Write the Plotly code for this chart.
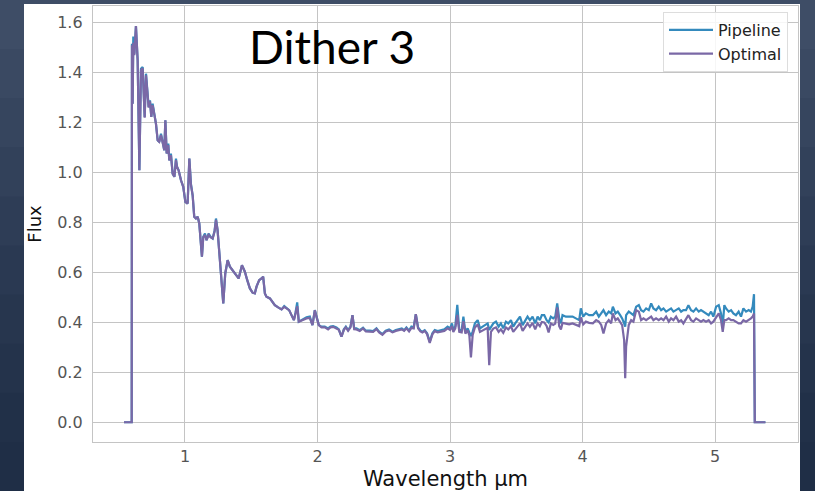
import plotly.graph_objects as go

# ---- data ----
wavelength = [
    0.54, 0.57, 0.598,
    0.600, 0.605, 0.610, 0.618, 0.630, 0.643, 0.656, 0.668, 0.681, 0.688, 0.696, 0.706, 0.718, 0.726,
    0.736, 0.746, 0.756, 0.769, 0.781, 0.794, 0.806, 0.819, 0.832, 0.844, 0.852, 0.862, 0.874, 0.882,
    0.894, 0.907, 0.920, 0.932, 0.940, 0.952, 0.970, 0.987, 1.003, 1.020, 1.033, 1.045, 1.058, 1.070,
    1.083, 1.096, 1.108, 1.118, 1.128, 1.138, 1.151, 1.163, 1.178, 1.194, 1.209, 1.224, 1.234, 1.246,
    1.259, 1.274, 1.289, 1.304, 1.322, 1.339, 1.359, 1.385, 1.405, 1.430, 1.452, 1.470, 1.490, 1.510,
    1.527, 1.540, 1.560, 1.578, 1.590, 1.603, 1.615, 1.641, 1.661, 1.678, 1.703, 1.729, 1.749, 1.766,
    1.786, 1.804, 1.822, 1.834, 1.847, 1.859, 1.879, 1.899, 1.917, 1.942, 1.962, 1.980, 1.992, 2.010,
    2.030, 2.055, 2.080, 2.098, 2.118, 2.143, 2.161, 2.181, 2.199, 2.214, 2.231, 2.249, 2.264, 2.277,
    2.294, 2.319, 2.344, 2.365, 2.395, 2.420, 2.445, 2.465, 2.490, 2.515, 2.540, 2.566, 2.591, 2.616,
    2.636, 2.654, 2.671, 2.691, 2.709, 2.726, 2.742, 2.759, 2.777, 2.792, 2.809, 2.827, 2.847, 2.867,
    2.885, 2.907, 2.932, 2.957, 2.982, 3.000, 3.015, 3.025, 3.040, 3.055, 3.070, 3.088, 3.101, 3.116,
    3.133, 3.146, 3.158, 3.171, 3.188, 3.209, 3.226, 3.246, 3.266, 3.284, 3.296, 3.309, 3.327, 3.347,
    3.367, 3.384, 3.402, 3.422, 3.440, 3.460, 3.477, 3.492, 3.510, 3.528, 3.548, 3.568, 3.585, 3.603,
    3.623, 3.643, 3.661, 3.678, 3.693, 3.711, 3.729, 3.744, 3.761, 3.779, 3.794, 3.809, 3.824, 3.837,
    3.849, 3.874, 3.899, 3.925, 3.950, 3.975, 3.987, 4.005, 4.025, 4.050, 4.078, 4.103, 4.123, 4.141,
    4.158, 4.178, 4.198, 4.216, 4.229, 4.249, 4.266, 4.284, 4.299, 4.314, 4.322, 4.329, 4.349, 4.367,
    4.384, 4.405, 4.425, 4.442, 4.460, 4.480, 4.500, 4.518, 4.535, 4.555, 4.575, 4.593, 4.611, 4.631,
    4.651, 4.668, 4.686, 4.706, 4.726, 4.744, 4.761, 4.781, 4.799, 4.819, 4.837, 4.857, 4.877, 4.894,
    4.912, 4.932, 4.952, 4.970, 4.987, 5.008, 5.028, 5.045, 5.058, 5.070, 5.083, 5.103, 5.121, 5.138,
    5.158, 5.178, 5.196, 5.214, 5.234, 5.254, 5.271, 5.284, 5.294, 5.300, 5.380,
]

pipeline_flux = [
    0, 0, 0,
    1.516, 1.276, 1.545, 1.476, 1.587, 1.449, 1.009, 1.416, 1.423, 1.329, 1.223, 1.396, 1.329, 1.263,
    1.289, 1.223, 1.276, 1.236, 1.196, 1.129, 1.123, 1.156, 1.123, 1.089, 1.209, 1.076, 1.116, 1.049,
    1.076, 0.996, 0.983, 1.056, 1.023, 1.009, 0.969, 0.943, 0.883, 0.876, 1.056, 0.956, 0.909, 0.823,
    0.816, 0.823, 0.796, 0.729, 0.663, 0.743, 0.756, 0.729, 0.756, 0.743, 0.736, 0.769, 0.816, 0.769,
    0.689, 0.596, 0.476, 0.596, 0.649, 0.623, 0.609, 0.589, 0.576, 0.629, 0.603, 0.569, 0.536, 0.519,
    0.516, 0.543, 0.569, 0.576, 0.583, 0.516, 0.503, 0.496, 0.483, 0.469, 0.460, 0.452, 0.465, 0.456,
    0.449, 0.429, 0.409, 0.439, 0.480, 0.403, 0.409, 0.416, 0.420, 0.423, 0.389, 0.449, 0.423, 0.389,
    0.383, 0.383, 0.376, 0.383, 0.385, 0.380, 0.372, 0.343, 0.372, 0.383, 0.369, 0.383, 0.429, 0.376,
    0.376, 0.369, 0.379, 0.367, 0.367, 0.365, 0.376, 0.363, 0.353, 0.367, 0.372, 0.363, 0.369, 0.372,
    0.376, 0.369, 0.380, 0.367, 0.383, 0.380, 0.433, 0.380, 0.367, 0.363, 0.369, 0.356, 0.323, 0.356,
    0.369, 0.365, 0.369, 0.372, 0.383, 0.376, 0.396, 0.369, 0.385, 0.470, 0.369, 0.369, 0.423, 0.363,
    0.376, 0.356, 0.345, 0.363, 0.396, 0.409, 0.376, 0.383, 0.389, 0.396, 0.370, 0.383, 0.396, 0.403,
    0.383, 0.396, 0.376, 0.403, 0.396, 0.409, 0.383, 0.396, 0.409, 0.423, 0.389, 0.409, 0.423, 0.409,
    0.423, 0.396, 0.423, 0.409, 0.429, 0.429, 0.409, 0.400, 0.423, 0.416, 0.423, 0.476, 0.416, 0.396,
    0.429, 0.423, 0.423, 0.423, 0.416, 0.409, 0.456, 0.423, 0.436, 0.429, 0.429, 0.443, 0.423, 0.436,
    0.449, 0.429, 0.443, 0.436, 0.463, 0.436, 0.443, 0.429, 0.416, 0.396, 0.383, 0.429, 0.443, 0.436,
    0.429, 0.463, 0.469, 0.449, 0.443, 0.456, 0.449, 0.476, 0.456, 0.449, 0.463, 0.449, 0.456, 0.443,
    0.449, 0.456, 0.443, 0.449, 0.456, 0.443, 0.449, 0.449, 0.469, 0.449, 0.443, 0.456, 0.443, 0.449,
    0.443, 0.436, 0.429, 0.443, 0.423, 0.463, 0.469, 0.436, 0.385, 0.469, 0.456, 0.443, 0.449, 0.436,
    0.429, 0.443, 0.423, 0.456, 0.443, 0.449, 0.443, 0.463, 0.513, 0, 0,
]

optimal_flux = [
    0, 0, 0,
    1.510, 1.276, 1.520, 1.470, 1.587, 1.449, 1.009, 1.410, 1.418, 1.325, 1.220, 1.390, 1.320, 1.260,
    1.285, 1.223, 1.270, 1.236, 1.196, 1.129, 1.123, 1.150, 1.120, 1.089, 1.209, 1.076, 1.110, 1.049,
    1.070, 0.996, 0.983, 1.050, 1.023, 1.009, 0.969, 0.943, 0.883, 0.876, 1.056, 0.950, 0.909, 0.823,
    0.816, 0.823, 0.796, 0.729, 0.663, 0.740, 0.750, 0.729, 0.750, 0.740, 0.736, 0.765, 0.810, 0.769,
    0.689, 0.596, 0.476, 0.596, 0.649, 0.623, 0.609, 0.589, 0.576, 0.629, 0.603, 0.569, 0.536, 0.519,
    0.516, 0.543, 0.569, 0.576, 0.583, 0.516, 0.503, 0.496, 0.483, 0.469, 0.460, 0.452, 0.462, 0.456,
    0.449, 0.429, 0.409, 0.435, 0.465, 0.403, 0.409, 0.412, 0.416, 0.418, 0.389, 0.449, 0.423, 0.389,
    0.380, 0.380, 0.372, 0.380, 0.382, 0.376, 0.370, 0.343, 0.370, 0.380, 0.366, 0.380, 0.429, 0.373,
    0.372, 0.366, 0.376, 0.364, 0.364, 0.362, 0.373, 0.360, 0.350, 0.364, 0.368, 0.360, 0.366, 0.368,
    0.372, 0.366, 0.376, 0.364, 0.378, 0.376, 0.433, 0.376, 0.364, 0.360, 0.366, 0.353, 0.318, 0.352,
    0.365, 0.360, 0.364, 0.366, 0.376, 0.370, 0.385, 0.362, 0.376, 0.430, 0.362, 0.360, 0.405, 0.355,
    0.368, 0.348, 0.260, 0.350, 0.380, 0.392, 0.362, 0.368, 0.372, 0.378, 0.229, 0.362, 0.375, 0.380,
    0.362, 0.372, 0.358, 0.380, 0.372, 0.385, 0.362, 0.372, 0.386, 0.396, 0.366, 0.385, 0.396, 0.382,
    0.398, 0.372, 0.396, 0.385, 0.402, 0.400, 0.386, 0.360, 0.396, 0.390, 0.395, 0.460, 0.385, 0.372,
    0.398, 0.395, 0.392, 0.396, 0.390, 0.385, 0.420, 0.392, 0.403, 0.398, 0.396, 0.409, 0.403, 0.390,
    0.356, 0.396, 0.409, 0.396, 0.436, 0.409, 0.416, 0.403, 0.389, 0.329, 0.176, 0.303, 0.390, 0.409,
    0.403, 0.449, 0.443, 0.409, 0.416, 0.409, 0.416, 0.423, 0.409, 0.416, 0.409, 0.416, 0.409, 0.423,
    0.403, 0.416, 0.409, 0.423, 0.403, 0.409, 0.396, 0.416, 0.429, 0.409, 0.403, 0.416, 0.409, 0.403,
    0.409, 0.403, 0.409, 0.396, 0.403, 0.423, 0.436, 0.409, 0.362, 0.409, 0.409, 0.416, 0.409, 0.409,
    0.403, 0.396, 0.396, 0.409, 0.403, 0.409, 0.416, 0.423, 0.436, 0, 0,
]

x_ticks = [1, 2, 3, 4, 5]
y_ticks = [0.0, 0.2, 0.4, 0.6, 0.8, 1.0, 1.2, 1.4, 1.6]

BLUE = "#348ABD"
PURPLE = "#7A68A6"
GRID = "#c4c4c4"
TICK = "#555555"

fig = go.Figure()
fig.add_trace(go.Scatter(x=wavelength, y=pipeline_flux, mode="lines", name="Pipeline",
                         line=dict(color=BLUE, width=2.2)))
fig.add_trace(go.Scatter(x=wavelength, y=optimal_flux, mode="lines", name="Optimal",
                         line=dict(color=PURPLE, width=2.2)))

# decorative background: dark gradient bands + white panel
W, H = 815, 491
L, R, T, B = 93, 17, 6, 49
pw, ph = W - L - R, H - T - B


def px_x(p):
    return (p - L) / pw


def px_y(p):
    return (H - B - p) / ph


band_colors = ["#3e4d66", "#3a4962", "#36455e", "#32415a", "#2e3d56", "#2a3952",
               "#27364e", "#24334b", "#213048", "#1f2e46"]
shapes = []
nb = len(band_colors)
for i, c in enumerate(band_colors):
    y0 = i * H / nb
    y1 = (i + 1) * H / nb + 1
    shapes.append(dict(type="rect", xref="paper", yref="paper",
                       x0=px_x(0), x1=px_x(W), y0=px_y(y1), y1=px_y(y0),
                       fillcolor=c, line=dict(width=0), layer="below"))
shapes.append(dict(type="rect", xref="paper", yref="paper",
                   x0=px_x(24), x1=px_x(800), y0=px_y(H + 2), y1=px_y(4),
                   fillcolor="white", line=dict(width=0), layer="below"))

fig.update_layout(
    width=W, height=H,
    margin=dict(l=L, r=R, t=T, b=B, autoexpand=False),
    paper_bgcolor="#2c3b53",
    plot_bgcolor="white",
    shapes=shapes,
    font=dict(family="DejaVu Sans", color=TICK),
    showlegend=True,
    legend=dict(x=px_x(788), y=px_y(12), xanchor="right", yanchor="top",
                bgcolor="rgba(255,255,255,0.85)", bordercolor="#dddddd", borderwidth=1,
                font=dict(family="DejaVu Sans", size=16, color="#222222"),
                itemwidth=44, tracegroupgap=0),
    annotations=[dict(text="Dither 3", xref="paper", yref="paper",
                      x=px_x(332), y=px_y(46), xanchor="center", yanchor="middle",
                      showarrow=False, font=dict(family="Lato", size=46, color="black"))],
)
fig.update_xaxes(range=[0.306, 5.626], tickvals=x_ticks, ticktext=[str(v) for v in x_ticks],
                 showgrid=True, gridcolor=GRID, gridwidth=1, zeroline=False,
                 showline=True, linecolor=GRID, linewidth=1.3, mirror=True,
                 ticks="", ticklabelstandoff=0, automargin=False,
                 tickfont=dict(family="DejaVu Sans", size=16, color=TICK),
                 title=dict(text="Wavelength µm", standoff=10,
                            font=dict(family="DejaVu Sans", size=21, color="#111111")))
fig.update_yaxes(range=[-0.079, 1.667], tickvals=y_ticks, ticktext=[f"{v:.1f}" for v in y_ticks],
                 showgrid=True, gridcolor=GRID, gridwidth=1, zeroline=False,
                 showline=True, linecolor=GRID, linewidth=1.3, mirror=True,
                 ticks="", ticklabelstandoff=6, automargin=False,
                 tickfont=dict(family="DejaVu Sans", size=16, color=TICK),
                 title=dict(text="Flux", standoff=10,
                            font=dict(family="DejaVu Sans", size=18, color="#111111")))

fig.write_html("out.html")
